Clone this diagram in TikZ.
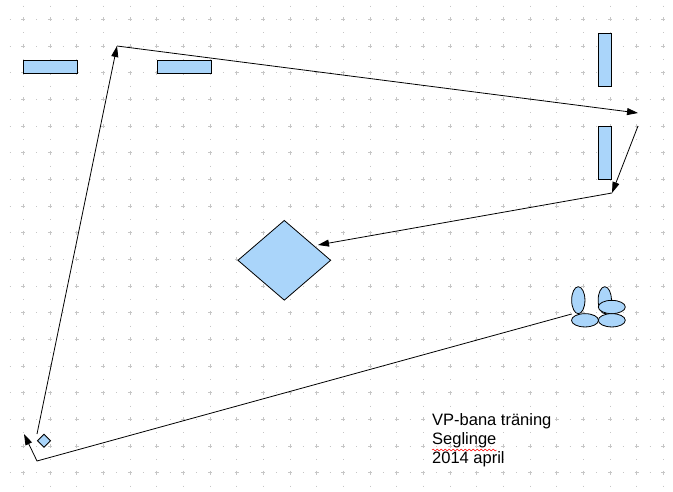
\documentclass[tikz,border=0pt]{standalone}
\usepackage{fontspec}
\setmainfont{Liberation Sans}
\usetikzlibrary{arrows.meta, positioning, shapes.geometric, decorations.pathmorphing}
\definecolor{mblue}{HTML}{AAD5FA}
\definecolor{gdot}{HTML}{C6C6C6}

\begin{document}
\begin{tikzpicture}[x=1pt, y=-1pt,
  buoy/.style={draw=black, fill=mblue, line width=0.8pt, inner sep=0pt},
  leg/.style={draw=black, line width=0.8pt, -{Triangle[length=11pt, width=7pt]}}]
\useasboundingbox (0,0) rectangle (673,492);
\fill[white] (0,0) rectangle (673,492);
% grid
\foreach \k in {0,...,17}
  \draw[gdot, line width=0.8pt, dash pattern=on 0.8pt off 12.533pt] (9.6,19.33+26.667*\k) -- (673,19.33+26.667*\k);
\foreach \k in {0,...,24}
  \draw[gdot, line width=0.8pt, dash pattern=on 0.8pt off 12.533pt] (23.33+26.667*\k,5.6) -- (23.33+26.667*\k,492);
\foreach \k in {0,...,17}
  \draw[gdot, line width=0.7pt, dash pattern=on 4pt off 22.667pt] (21.33,19.33+26.667*\k) -- (673,19.33+26.667*\k);
\foreach \k in {0,...,24}
  \draw[gdot, line width=0.7pt, dash pattern=on 4pt off 22.667pt] (23.33+26.667*\k,17.33) -- (23.33+26.667*\k,492);
% marks
\node[buoy, minimum width=54pt, minimum height=13pt] (gateL) at (50.3,66.8) {};
\node[buoy, minimum width=54pt, minimum height=13pt] (gateR) at (184.3,66.8) {};
\node[buoy, minimum width=13pt, minimum height=53pt] (markT) at (604.8,59.8) {};
\node[buoy, minimum width=13pt, minimum height=53pt] (markB) at (604.8,153.3) {};
\node[buoy, diamond, minimum width=93pt, minimum height=80pt] (rounding) at (284.3,260.3) {};
\node[buoy, diamond, minimum width=13.3pt, minimum height=13.3pt] (startmk) at (44,440.7) {};
\node[buoy, ellipse, minimum width=13.3pt, minimum height=27pt] (pinR) at (604.8,300.2) {};
\node[buoy, ellipse, minimum width=27pt, minimum height=13.3pt] (padR1) at (611.8,307) {};
\node[buoy, ellipse, minimum width=27pt, minimum height=13.3pt] (padR2) at (611.8,320.3) {};
\node[buoy, ellipse, minimum width=13.3pt, minimum height=27pt] (pinL) at (578.3,300.2) {};
\node[buoy, ellipse, minimum width=27pt, minimum height=13.3pt] (padL) at (585,320.3) {};
% course
\coordinate (p1) at (571.7,314);
\coordinate (p2) at (37,461);
\coordinate (p3) at (24,434);
\coordinate (p4) at (37,434);
\coordinate (p5) at (117,46);
\coordinate (p6) at (638,113);
\coordinate (p7) at (638,126);
\coordinate (p8) at (612,193);
\coordinate (p9) at (318,245);
\draw[leg] (p1) -- (p2) -- (p3);
\draw[leg] (p4) -- (p5);
\draw[leg] (p5) -- (p6);
\draw[leg] (p7) -- (p8);
\draw[leg] (p8) -- (p9);
% caption
\node[anchor=base west, align=left, inner sep=0pt, font=\fontsize{16.5}{19}\selectfont]
  (caption) at (432,463.3) {VP-bana träning\\Seglinge\\2014 april};
\draw[red, line width=0.5pt, decorate, decoration={snake, amplitude=0.9pt, segment length=4pt}]
  (432,450) -- (496.7,450);
\end{tikzpicture}
\end{document}
